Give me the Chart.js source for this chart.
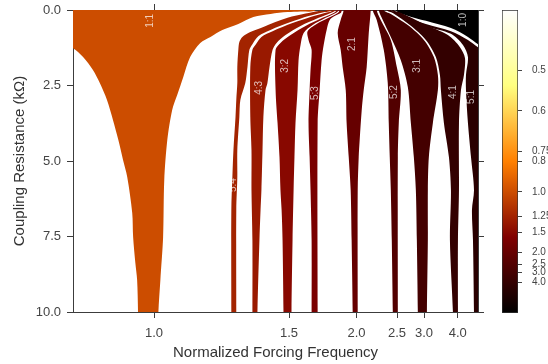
<!DOCTYPE html>
<html>
<head>
<meta charset="utf-8">
<script src="https://cdn.jsdelivr.net/npm/chart.js@4/dist/chart.umd.min.js"></script>
<style>
  html, body { margin: 0; padding: 0; background: #fff; }
  #wrap { position: relative; width: 548px; height: 364px; }
  #main { position: absolute; left: 0; top: 0; }
  #cbar { position: absolute; left: 490px; top: 0; }
</style>
</head>
<body>
<div id="wrap">
  <canvas id="main" width="490" height="364"></canvas>
  <canvas id="cbar" width="58" height="364"></canvas>
</div>
<script>
// ---- Arnold tongues: locking regions in (forcing frequency, coupling resistance) ----
// Each edge is a list of [R (kΩ), normalized frequency] pairs, top to bottom.

const tongueNames  = ['1:1', '5:4', '4:3', '3:2', '5:3', '2:1', '5:2', '3:1', '4:1', '5:1', '1:0'];
const tongueRatios = [1, 1.25, 4 / 3, 1.5, 5 / 3, 2, 2.5, 3, 4, 5, Infinity];

const edge11L = [[0, 0.82], [1.22, 0.82], [1.26, 0.833], [1.56, 0.851], [1.99, 0.869], [2.42, 0.882], [2.98, 0.896], [3.64, 0.908], [4.30, 0.919], [4.97, 0.929], [5.53, 0.938], [6.72, 0.949], [7.52, 0.951], [8.38, 0.956], [8.94, 0.960], [10, 0.962]];
const edge11R = [[0, 1.664], [0.05, 1.567], [0.07, 1.492], [0.13, 1.404], [0.23, 1.325], [0.46, 1.263], [0.66, 1.203], [0.89, 1.162], [1.09, 1.129], [1.56, 1.098], [2.22, 1.078], [2.81, 1.061], [3.31, 1.047], [4.30, 1.034], [5.63, 1.026], [7.52, 1.023], [8.94, 1.016], [10, 1.011]];

const edge54L = [[0, 1.743], [0.03, 1.685], [0.12, 1.598], [0.26, 1.492], [0.56, 1.370], [0.73, 1.312], [0.89, 1.279], [1.06, 1.267], [1.32, 1.263], [1.89, 1.259], [2.42, 1.259], [2.98, 1.255], [3.54, 1.252], [4.64, 1.244], [5.53, 1.240], [6.62, 1.236], [10, 1.236]];
const edge54R = [[0, 1.781], [0.08, 1.713], [0.2, 1.617], [0.4, 1.509], [0.66, 1.404], [0.86, 1.348], [1.13, 1.321], [1.32, 1.308], [1.89, 1.300], [2.42, 1.291], [2.98, 1.271], [3.54, 1.267], [4.64, 1.259], [5.53, 1.259], [6.62, 1.255], [10, 1.255]];

const edge43L = [[0, 1.789], [0.1, 1.728], [0.23, 1.630], [0.43, 1.520], [0.7, 1.414], [0.89, 1.361], [1.16, 1.334], [1.32, 1.321], [1.89, 1.312], [3.54, 1.312], [4.64, 1.317], [5.96, 1.317], [7.62, 1.321], [10, 1.321]];
const edge43R = [[0, 1.813], [0.1, 1.773], [0.26, 1.685], [0.53, 1.567], [0.83, 1.481], [1.09, 1.434], [1.32, 1.414], [1.89, 1.399], [2.42, 1.389], [2.65, 1.380], [3.54, 1.370], [4.64, 1.366], [5.96, 1.361], [6.62, 1.357], [7.62, 1.352], [10, 1.343]];

const edge32L = [[0, 1.821], [0.1, 1.797], [0.26, 1.713], [0.53, 1.598], [0.83, 1.509], [1.09, 1.454], [1.32, 1.429], [2.65, 1.429], [3.74, 1.439], [4.87, 1.449], [5.96, 1.454], [6.62, 1.460], [7.62, 1.465], [10, 1.470]];
const edge32R = [[0, 1.838], [0.1, 1.813], [0.26, 1.736], [0.5, 1.644], [0.76, 1.586], [1.16, 1.567], [1.66, 1.555], [2.65, 1.549], [3.74, 1.537], [4.87, 1.531], [5.96, 1.526], [7.62, 1.520], [10, 1.514]];

const edge53L = [[0, 1.846], [0.1, 1.830], [0.26, 1.758], [0.46, 1.671], [0.7, 1.611], [0.99, 1.617], [1.32, 1.637], [1.99, 1.630], [2.65, 1.624], [3.74, 1.617], [4.87, 1.624], [5.96, 1.630], [7.62, 1.637], [10, 1.637]];
const edge53R = [[0, 1.864], [0.1, 1.855], [0.2, 1.805], [0.33, 1.766], [0.66, 1.743], [1.16, 1.721], [1.66, 1.706], [2.65, 1.692], [3.74, 1.678], [10, 1.678]];

const edge21L = [[0, 1.881], [0.33, 1.855], [0.76, 1.830], [1.32, 1.855], [1.89, 1.872], [2.65, 1.899], [3.74, 1.907], [4.87, 1.926], [5.96, 1.944], [7.62, 1.953], [10, 1.963]];
const edge21R = [[0, 2.151], [0.76, 2.129], [1.89, 2.106], [2.65, 2.074], [3.31, 2.053], [4.30, 2.032], [4.87, 2.022], [5.96, 2.012], [10, 2.012]];

const edge52L = [[0, 2.174], [0.33, 2.222], [1.32, 2.311], [2.42, 2.365], [3.74, 2.379], [4.87, 2.393], [5.96, 2.408], [7.62, 2.422], [10, 2.437]];
const edge52R = [[0, 2.222], [0.33, 2.272], [0.99, 2.408], [1.89, 2.497], [2.65, 2.560], [3.74, 2.528], [4.87, 2.513], [10, 2.513]];

const edge31L = [[0, 2.247], [0.33, 2.298], [0.89, 2.408], [1.66, 2.560], [2.55, 2.679], [3.74, 2.734], [4.87, 2.790], [5.96, 2.829], [7.62, 2.849], [10, 2.869]];
const edge31R = [[0, 2.311], [0.13, 2.408], [0.5, 2.679], [0.99, 2.997], [1.56, 3.237], [2.15, 3.344], [2.65, 3.344], [3.74, 3.211], [4.87, 3.112], [5.96, 3.088], [7.62, 3.088], [10, 3.066]];

const edge41L = [[0, 2.352], [0.1, 2.437], [0.5, 2.715], [0.99, 3.042], [1.56, 3.289], [2.15, 3.401], [2.65, 3.429], [3.74, 3.519], [4.87, 3.679], [5.96, 3.748], [7.62, 3.713], [10, 3.818]];
const edge41R = [[0, 2.408], [0.07, 2.528], [0.46, 2.997], [0.83, 3.646], [1.23, 4.089], [1.59, 4.307], [2.15, 4.261], [2.65, 4.131], [3.74, 4.049], [5.96, 4.049], [7.62, 4.008], [10, 4.008]];

const edge51L = [[0, 2.452], [0.1, 2.560], [0.53, 3.042], [0.79, 3.748], [1.16, 4.218], [1.56, 4.448], [2.15, 4.354], [2.65, 4.354], [3.74, 4.448], [4.87, 4.602], [5.96, 4.764], [6.62, 4.653], [7.62, 4.708], [10, 4.764]];
const edge51R = [[0, 2.422], [0.23, 2.644], [0.46, 3.042], [0.7, 3.748], [0.99, 4.448], [1.26, 5.063], [1.42, 5.63], [10, 5.63]];

// 1:0 region (no oscillation) in the upper-right corner: lower boundary and right side
const edge10L = [[0, 2.481], [0.17, 2.644], [0.36, 3.042], [0.6, 3.748], [0.89, 4.448], [1.16, 5.063], [1.32, 5.63]];
const edge10R = [[0, 5.63], [1.32, 5.63]];

// Tongue labels: text, frequency, resistance
const labelNames = ['1:1', '5:4', '4:3', '3:2', '5:3', '2:1', '5:2', '3:1', '4:1', '5:1', '1:0'];
const labelFreqs = [0.991, 1.244, 1.352, 1.481, 1.664, 1.963, 2.452, 2.849, 3.818, 4.602, 4.218];
const labelRs    = [0.36, 5.8, 2.58, 1.85, 2.75, 1.13, 2.72, 1.85, 2.72, 2.88, 0.33];

// Axis ticks
const xTickFreqs  = [1.0, 1.5, 2.0, 2.5, 3.0, 4.0];
const yTickValues = [0, 2.5, 5, 7.5, 10];
const freqMin = 1 / 1.2, freqMax = 1 / 0.2;   // period axis runs from 1.2 down to 0.2
const rMin = 0, rMax = 10;

// Colour bar ticks (frequency ratio) and colour normalisation in inverse ratio
const cbarTickRatios = [0.5, 0.6, 0.75, 0.8, 1.0, 1.25, 1.5, 2.0, 2.5, 3.0, 4.0];
const cbarTickLabels = ['0.5', '0.6', '0.75', '0.8', '1.0', '1.25', '1.5', '2.0', '2.5', '3.0', '4.0'];
const inverseRatioMax = 2.5;

// ---- helpers ----
function afmhot(t) {
  const c = v => Math.round(255 * Math.min(1, Math.max(0, v)));
  return `rgb(${c(2 * t)},${c(2 * t - 0.5)},${c(2 * t - 1)})`;
}
const colourFraction = ratio => (1 / ratio) / inverseRatioMax;

// Closed outline: left edge down, right edge back up. Edges that reach the
// top/bottom of the axis are continued a little past it so that the smoothed
// corners fall outside the clipped plot area.
function polygon(left, right) {
  const pad = 0.6;
  const ext = (edge) => {
    const out = edge.slice();
    const first = edge[0], last = edge[edge.length - 1];
    if (first[0] <= rMin) out.unshift([rMin - pad, first[1]]);
    if (last[0] >= rMax) out.push([rMax + pad, last[1]]);
    return out;
  };
  return ext(left).concat(ext(right).reverse());
}
const toPoints = pairs => pairs.map(([r, f]) => ({ x: 1 / f, y: r }));

const tongueShapes = [
  polygon(edge11L, edge11R),
  polygon(edge54L, edge54R),
  polygon(edge43L, edge43R),
  polygon(edge32L, edge32R),
  polygon(edge53L, edge53R),
  polygon(edge21L, edge21R),
  polygon(edge52L, edge52R),
  polygon(edge31L, edge31R),
  polygon(edge41L, edge41R),
  polygon(edge51L, edge51R),
  polygon(edge10L, edge10R)
];

const datasets = tongueShapes.map((shape, i) => ({
  label: tongueNames[i],
  data: toPoints(shape),
  fill: 'shape',
  backgroundColor: afmhot(colourFraction(tongueRatios[i])),
  borderColor: 'rgba(0,0,0,0)',
  borderWidth: 0,
  pointRadius: 0,
  tension: 0.3
}));

Chart.defaults.font.family = '"Liberation Sans", Arial, sans-serif';
const axisColour = '#3c3c3c';
const tickFont = { size: 13 };

const tongueLabelPlugin = {
  id: 'tongueLabels',
  afterDatasetsDraw(chart) {
    const { ctx, chartArea, scales } = chart;
    ctx.save();
    ctx.beginPath();
    ctx.rect(chartArea.left, chartArea.top, chartArea.width, chartArea.height);
    ctx.clip();
    ctx.fillStyle = 'rgba(255,255,255,0.72)';
    ctx.font = '10px "Liberation Sans", Arial, sans-serif';
    ctx.textAlign = 'center';
    ctx.textBaseline = 'middle';
    labelNames.forEach((t, i) => {
      const px = scales.x.getPixelForValue(1 / labelFreqs[i]);
      const py = scales.y.getPixelForValue(labelRs[i]);
      ctx.save();
      ctx.translate(px, py);
      ctx.rotate(-Math.PI / 2);
      ctx.fillText(t, 0, 0);
      ctx.restore();
    });
    ctx.restore();
  }
};

const periodTicks = s => { s.ticks = xTickFreqs.map(f => ({ value: 1 / f })); };
const resistanceTicks = s => { s.ticks = yTickValues.map(v => ({ value: v })); };
const gridOpts = { drawOnChartArea: false, drawTicks: true, tickLength: 6, tickColor: axisColour, tickWidth: 1 };
const borderOpts = { display: true, color: axisColour, width: 1 };

new Chart(document.getElementById('main'), {
  type: 'line',
  data: { datasets },
  options: {
    responsive: false,
    animation: false,
    devicePixelRatio: 1,
    layout: { padding: { left: 0, right: 6, top: 4, bottom: 0 } },
    plugins: { legend: { display: false }, tooltip: { enabled: false } },
    scales: {
      x: {
        type: 'linear', position: 'bottom', min: 1 / freqMax, max: 1 / freqMin, reverse: true,
        afterBuildTicks: periodTicks,
        afterFit: s => { s.height = 52; s.paddingLeft = 0; s.paddingRight = 0; },
        grid: gridOpts, border: borderOpts,
        ticks: { autoSkip: false, maxRotation: 0, padding: 8, color: '#444', font: tickFont,
                 callback: v => (1 / v).toFixed(1) },
        title: { display: true, text: 'Normalized Forcing Frequency', color: '#333',
                 font: { size: 15 }, padding: { top: 0, bottom: 2 } }
      },
      xTop: {
        type: 'linear', position: 'top', min: 1 / freqMax, max: 1 / freqMin, reverse: true,
        afterBuildTicks: periodTicks,
        afterFit: s => { s.height = 6; s.paddingLeft = 0; s.paddingRight = 0; },
        grid: gridOpts, border: borderOpts,
        ticks: { display: false }
      },
      y: {
        type: 'linear', position: 'left', min: rMin, max: rMax, reverse: true,
        afterBuildTicks: resistanceTicks,
        afterFit: s => { s.width = 73; s.paddingTop = 0; s.paddingBottom = 0; },
        grid: gridOpts, border: borderOpts,
        ticks: { autoSkip: false, padding: 6, color: '#444', font: tickFont,
                 callback: v => v.toFixed(1) },
        title: { display: true, text: 'Coupling Resistance (kΩ)', color: '#333',
                 font: { size: 15 }, padding: { top: 11, bottom: 0 } }
      },
      yRight: {
        type: 'linear', position: 'right', min: rMin, max: rMax, reverse: true,
        afterBuildTicks: resistanceTicks,
        afterFit: s => { s.width = 6; s.paddingTop = 0; s.paddingBottom = 0; },
        grid: gridOpts, border: borderOpts,
        ticks: { display: false }
      }
    }
  },
  plugins: [tongueLabelPlugin]
});

// ---- colour bar ----
new Chart(document.getElementById('cbar'), {
  type: 'bar',
  data: {
    labels: [''],
    datasets: [{
      data: [1],
      backgroundColor: c => {
        const area = c.chart.chartArea;
        if (!area) return null;
        const g = c.chart.ctx.createLinearGradient(0, area.bottom, 0, area.top);
        for (let i = 0; i <= 40; i++) g.addColorStop(i / 40, afmhot(i / 40));
        return g;
      },
      borderColor: '#333',
      borderWidth: 1,
      borderSkipped: false,
      barPercentage: 1,
      categoryPercentage: 1
    }]
  },
  options: {
    responsive: false,
    animation: false,
    devicePixelRatio: 1,
    layout: { padding: { left: 12, right: 0, top: 10, bottom: 51 } },
    plugins: { legend: { display: false }, tooltip: { enabled: false } },
    scales: {
      x: { display: false },
      y: {
        position: 'right', min: 0, max: 1,
        afterBuildTicks: s => { s.ticks = cbarTickRatios.map(r => ({ value: colourFraction(r) })); },
        afterFit: s => { s.width = 30; s.paddingTop = 0; s.paddingBottom = 0; },
        grid: { drawOnChartArea: false, drawTicks: true, tickLength: 4, tickColor: '#444', tickWidth: 1 },
        border: { display: false },
        ticks: { autoSkip: false, padding: 10, color: '#444', font: { size: 10 },
                 callback: (v, i) => cbarTickLabels[i] }
      }
    }
  }
});
</script>
</body>
</html>
